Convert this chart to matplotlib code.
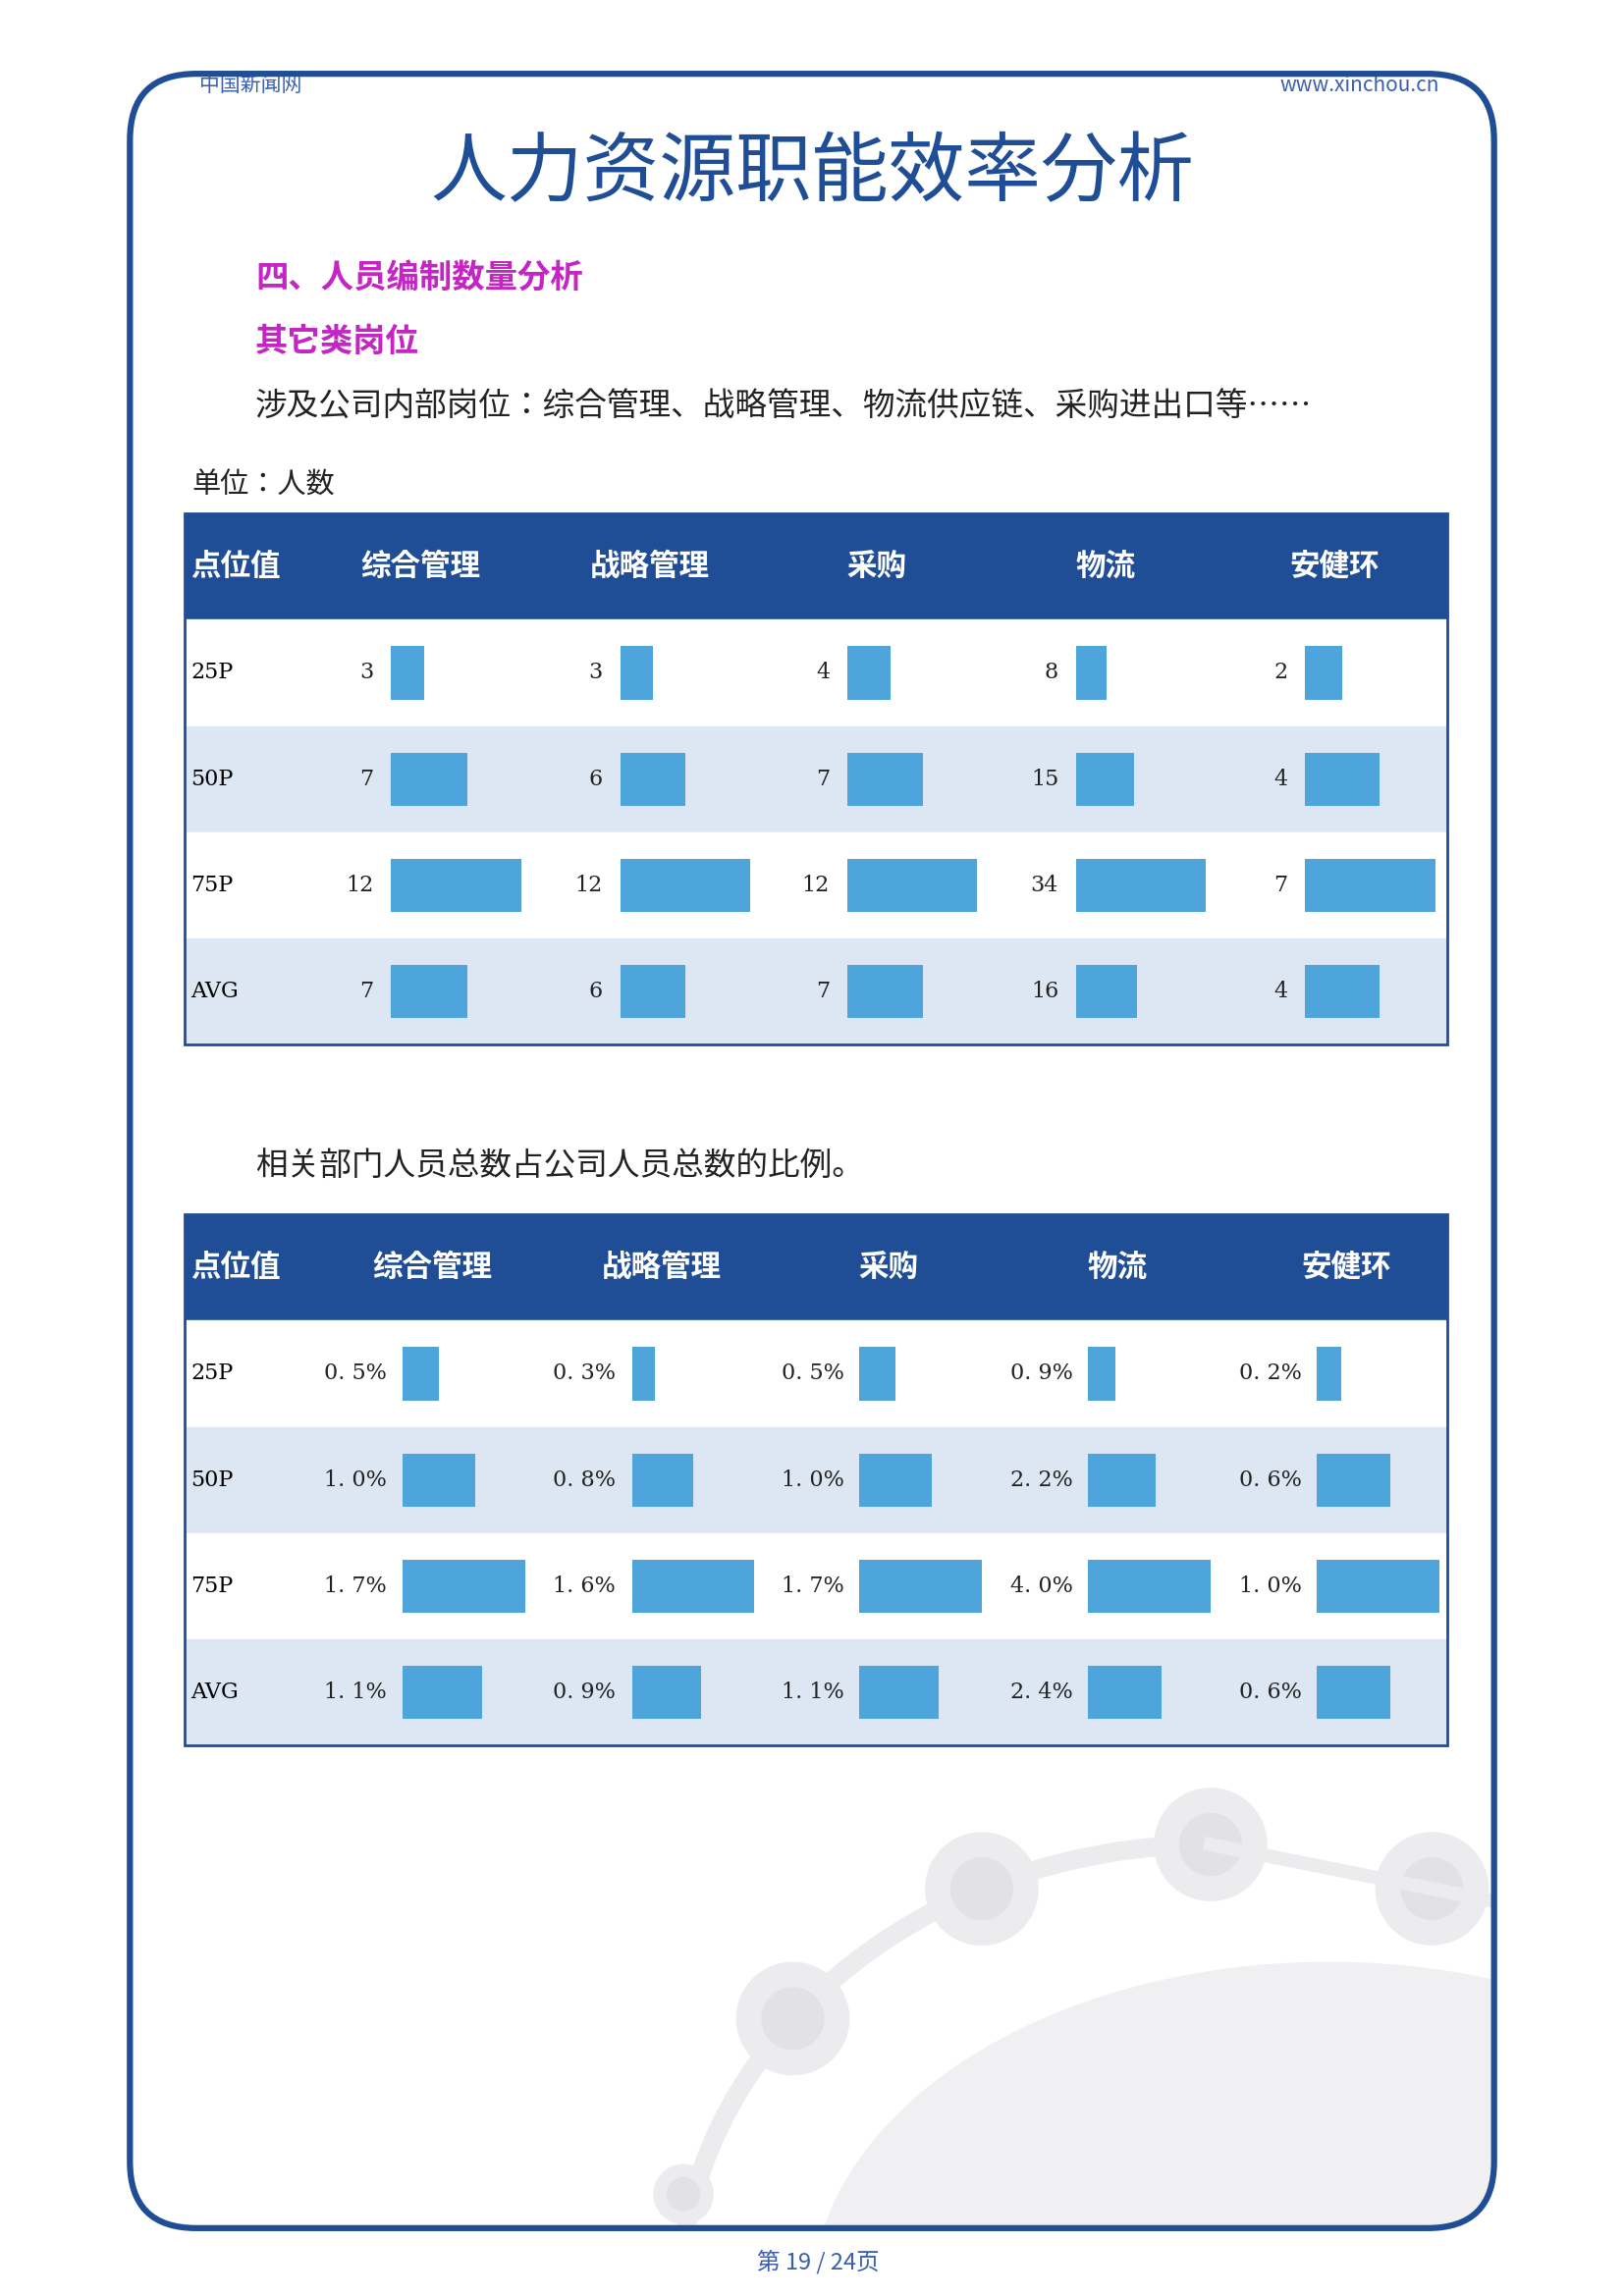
import matplotlib.pyplot as plt
from matplotlib import font_manager
from matplotlib.patches import FancyBboxPatch, Rectangle, Circle, Ellipse, Arc

nombres = {f.name for f in font_manager.fontManager.ttflist}
cjk = [n for n in ["Noto Sans CJK SC", "Noto Sans CJK JP", "Noto Sans CJK TC", "Noto Sans CJK KR"] if n in nombres]
plt.rcParams["font.family"] = "sans-serif"
plt.rcParams["font.sans-serif"] = cjk + ["DejaVu Sans"]

# ------------------------
# Datos
# ------------------------
columnas = ["综合管理", "战略管理", "采购", "物流", "安健环"]
filas = ["25P", "50P", "75P", "AVG"]

# Tabla 1: personas
personas = [
    [3, 3, 4, 8, 2],
    [7, 6, 7, 15, 4],
    [12, 12, 12, 34, 7],
    [7, 6, 7, 16, 4],
]
# Tabla 2: porcentaje sobre plantilla total
porcentajes = [
    [0.5, 0.3, 0.5, 0.9, 0.2],
    [1.0, 0.8, 1.0, 2.2, 0.6],
    [1.7, 1.6, 1.7, 4.0, 1.0],
    [1.1, 0.9, 1.1, 2.4, 0.6],
]

AZUL = "#1f4e96"
BARRA = "#4ea5dc"
CLARO = "#dde7f3"

fig = plt.figure(figsize=(16.54, 23.39), dpi=100)
ax = fig.add_axes([0, 0, 1, 1])
ax.set_xlim(0, 1100)
ax.set_ylim(1556, 0)
ax.axis("off")

# marco
marco = FancyBboxPatch((88, 50), 924, 1460, boxstyle="round,pad=0,rounding_size=45",
                       fill=False, ec=AZUL, lw=4.5, zorder=5)
ax.add_patch(marco)
clip = FancyBboxPatch((88, 50), 924, 1460, boxstyle="round,pad=0,rounding_size=45",
                      fill=False, lw=0, transform=ax.transData)

# decoracion de fondo
decor = [Ellipse((900, 1560), 700, 460, color="#f0f0f2", zorder=0),
         Arc((820, 1560), 720, 620, theta1=180, theta2=270, color="#ececee", lw=14, zorder=0)]
for cx, cy, r in [(537, 1368, 38), (665, 1280, 38), (820, 1250, 38), (970, 1280, 38), (463, 1487, 20)]:
    decor.append(Circle((cx, cy), r, color="#ececee", zorder=0))
    decor.append(Circle((cx, cy), r * 0.55, color="#e2e2e5", zorder=0))
for p in decor:
    ax.add_patch(p)
    p.set_clip_path(clip)
ln, = ax.plot([820, 1010], [1250, 1288], color="#ececee", lw=10, zorder=0)
ln.set_clip_path(clip)

ax.text(135, 58, "中国新闻网", fontsize=15, color="#3a5fb0", va="center")
ax.text(975, 58, "www.xinchou.cn", fontsize=15, color="#3a5fb0", va="center", ha="right")
ax.text(550, 118, "人力资源职能效率分析", fontsize=56, color=AZUL, ha="center", va="center")
ax.text(173, 189, "四、人员编制数量分析", fontsize=24, color="#c326c3", va="center", weight="bold")
ax.text(173, 232, "其它类岗位", fontsize=24, color="#c326c3", va="center", weight="bold")
ax.text(173, 276, "涉及公司内部岗位：综合管理、战略管理、物流供应链、采购进出口等……",
        fontsize=23.5, color="#222222", va="center")
ax.text(130, 329, "单位：人数", fontsize=21, color="#222222", va="center")
ax.text(173, 790, "相关部门人员总数占公司人员总数的比例。", fontsize=23.5, color="#222222", va="center")
ax.text(554, 1533, "第 19 / 24页", fontsize=17, color="#3a5fb0", ha="center", va="center")


def tabla(y0, datos, etiquetas, x_val, x_bar, ancho_max):
    alto_h = 72
    alto_f = 72
    ax.add_patch(Rectangle((125, y0), 855, alto_h, color=AZUL, zorder=2))
    ax.text(129, y0 + alto_h / 2, "点位值", fontsize=22, color="white", va="center",
            weight="bold", zorder=3)
    for j, c in enumerate(columnas):
        ax.text(x_bar[j] + 20, y0 + alto_h / 2, c, fontsize=22, color="white",
                ha="center", va="center", weight="bold", zorder=3)
    maximos = [max(f[j] for f in datos) for j in range(len(columnas))]
    for i, f in enumerate(filas):
        yt = y0 + alto_h + i * alto_f
        ax.add_patch(Rectangle((125, yt), 855, alto_f,
                               color=CLARO if i % 2 else "white", zorder=2))
        yc = yt + alto_f / 2
        ax.text(129, yc, f, fontsize=16, family="DejaVu Serif", va="center", zorder=3)
        for j in range(len(columnas)):
            v = datos[i][j]
            ax.text(x_val[j], yc, etiquetas(v), fontsize=16, family="DejaVu Serif",
                    ha="right", va="center", color="#222222", zorder=3)
            ax.barh(yc, v / maximos[j] * ancho_max, left=x_bar[j], height=36,
                    color=BARRA, zorder=3)
    total = alto_h + len(filas) * alto_f
    ax.add_patch(Rectangle((125, y0), 855, total, fill=False, ec=AZUL, lw=2, zorder=4))


tabla(348, personas, lambda v: f"{v}",
      [253, 408, 562, 717, 872], [265, 420, 574, 729, 884], 88)
tabla(823, porcentajes, lambda v: f"{v:.1f}".replace(".", ". ") + "%",
      [262, 417, 572, 727, 882], [273, 428, 582, 737, 892], 83)

fig.savefig("out.png", dpi=100)
